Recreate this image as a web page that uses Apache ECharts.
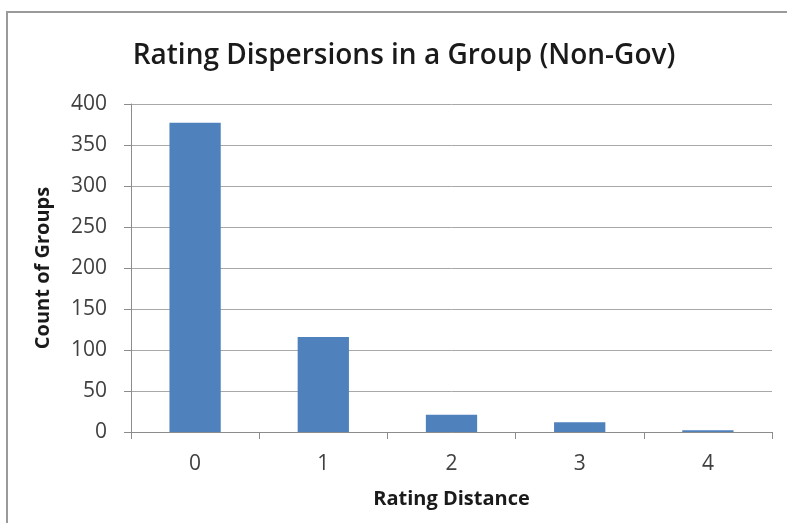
<!DOCTYPE html>
<html>
<head>
<meta charset="utf-8">
<script src="https://cdn.jsdelivr.net/npm/echarts@6/dist/echarts.min.js"></script>
<style>
  html, body { margin: 0; padding: 0; background: #fff; }
  #chart { width: 787px; height: 523px; }
</style>
</head>
<body>
<div id="chart"></div>
<script>
// Rating distance categories and the number of groups at each distance
const distances = ['0', '1', '2', '3', '4'];
const groupCounts = [377, 116, 21, 12, 2];
const yTicks = { min: 0, max: 400, step: 50 };

const font = '"Open Sans", "Noto Sans", sans-serif';
const chart = echarts.init(document.getElementById('chart'));

chart.setOption({
  backgroundColor: '#ffffff',
  animation: false,
  title: {
    text: 'Rating Dispersions in a Group (Non-Gov)',
    left: 399,
    textAlign: 'center',
    top: 37,
    textStyle: { fontFamily: font, fontSize: 28, fontWeight: 600, color: '#1a1a1a' }
  },
  graphic: [{
    type: 'rect',
    shape: { x: 7, y: 12, width: 800, height: 530 },
    style: { fill: 'none', stroke: '#9a9a9a', lineWidth: 2 },
    silent: true
  }],
  grid: { left: 131, right: 15, top: 104, bottom: 91 },
  xAxis: {
    type: 'category',
    data: distances,
    name: 'Rating Distance',
    nameLocation: 'middle',
    nameGap: 57,
    nameTextStyle: { fontFamily: font, fontSize: 20, fontWeight: 'bold', color: '#1a1a1a' },
    axisLine: { lineStyle: { color: '#8c8c8c', width: 1 } },
    axisTick: { show: true, length: 7, alignWithLabel: false, lineStyle: { color: '#8c8c8c' } },
    axisLabel: { fontFamily: font, fontSize: 21, color: '#404040', margin: 22 }
  },
  yAxis: {
    type: 'value',
    min: yTicks.min,
    max: yTicks.max,
    interval: yTicks.step,
    name: 'Count of Groups',
    nameLocation: 'middle',
    nameGap: 78,
    nameTextStyle: { fontFamily: font, fontSize: 20, fontWeight: 'bold', color: '#1a1a1a' },
    axisLine: { show: true, lineStyle: { color: '#8c8c8c', width: 1 } },
    axisTick: { show: true, length: 7, inside: false, lineStyle: { color: '#8c8c8c' } },
    axisLabel: { fontFamily: font, fontSize: 21, color: '#404040', margin: 24 },
    splitLine: { lineStyle: { color: '#a8a8a8', width: 1 } }
  },
  series: [{
    type: 'bar',
    data: groupCounts,
    barWidth: '40%',
    itemStyle: { color: '#4f81bd' }
  }]
});
</script>
</body>
</html>
